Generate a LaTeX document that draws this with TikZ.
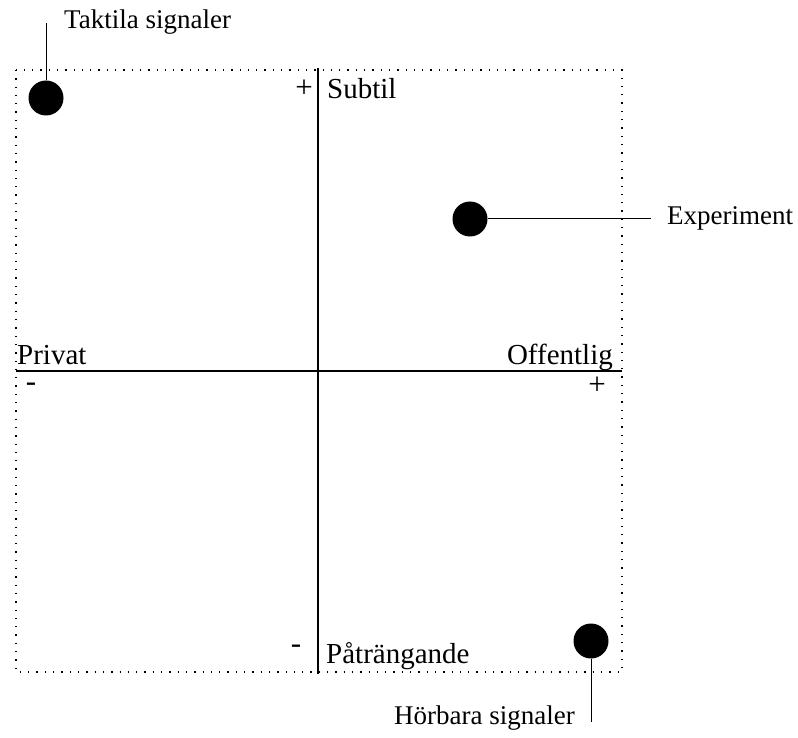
\documentclass[tikz,border=0pt]{standalone}
\usepackage{fontspec}
\setmainfont{Liberation Serif}
\begin{document}
\begin{tikzpicture}[x=1pt,y=-1pt,
  axislabel/.style={inner sep=0pt,font=\fontsize{29}{32}\selectfont},
  notelabel/.style={inner sep=0pt,font=\fontsize{27}{30}\selectfont},
  signlabel/.style={inner sep=0pt,font=\fontsize{31}{34}\selectfont},
  marker/.style={circle,fill=black,minimum size=35pt,inner sep=0pt},
  axis/.style={line width=1.2pt},
  leader/.style={line width=1pt}]
\useasboundingbox (0,0) rectangle (798,738);
% dotted frame
\draw[line width=1.3pt,dash pattern=on 1.3pt off 7pt] (16,70) rectangle (622,672);
% axes
\coordinate (vtop) at (318,68);
\coordinate (vbot) at (318,674);
\coordinate (hl) at (16,371);
\coordinate (hr) at (622,371);
\draw[axis] (vtop) -- (vbot);
\draw[axis] (hl) -- (hr);
% axis labels
\node[axislabel,anchor=west] (subtil) at (327,89) {Subtil};
\node[signlabel] (plustop) at (304,89) {+};
\node[axislabel,anchor=base west] (privat) at (17,364) {Privat};
\node[axislabel,anchor=base east] (offentlig) at (613,364) {Offentlig};
\node[signlabel] (minusleft) at (31,387) {-};
\node[signlabel] (plusright) at (597,386) {+};
\node[signlabel] (minusbottom) at (296,649) {-};
\node[axislabel,anchor=west] (patr) at (326,656) {Påträngande};
% markers
\node[marker] (taktila) at (46,98) {};
\node[marker] (experiment) at (470,219) {};
\node[marker] (horbara) at (591,641) {};
% annotations
\node[notelabel,anchor=west] (taktilatext) at (64,22) {Taktila signaler};
\node[notelabel,anchor=west] (experimenttext) at (667,218) {Experiment};
\node[notelabel,anchor=east] (horbaratext) at (575,718) {Hörbara signaler};
\coordinate (taktilaend) at (46,23);
\coordinate (experimentend) at (651,219);
\coordinate (horbaraend) at (591,722);
\draw[leader] (taktila.north) -- (taktilaend);
\draw[leader] (experiment.east) -- (experimentend);
\draw[leader] (horbara.south) -- (horbaraend);
\end{tikzpicture}
\end{document}
